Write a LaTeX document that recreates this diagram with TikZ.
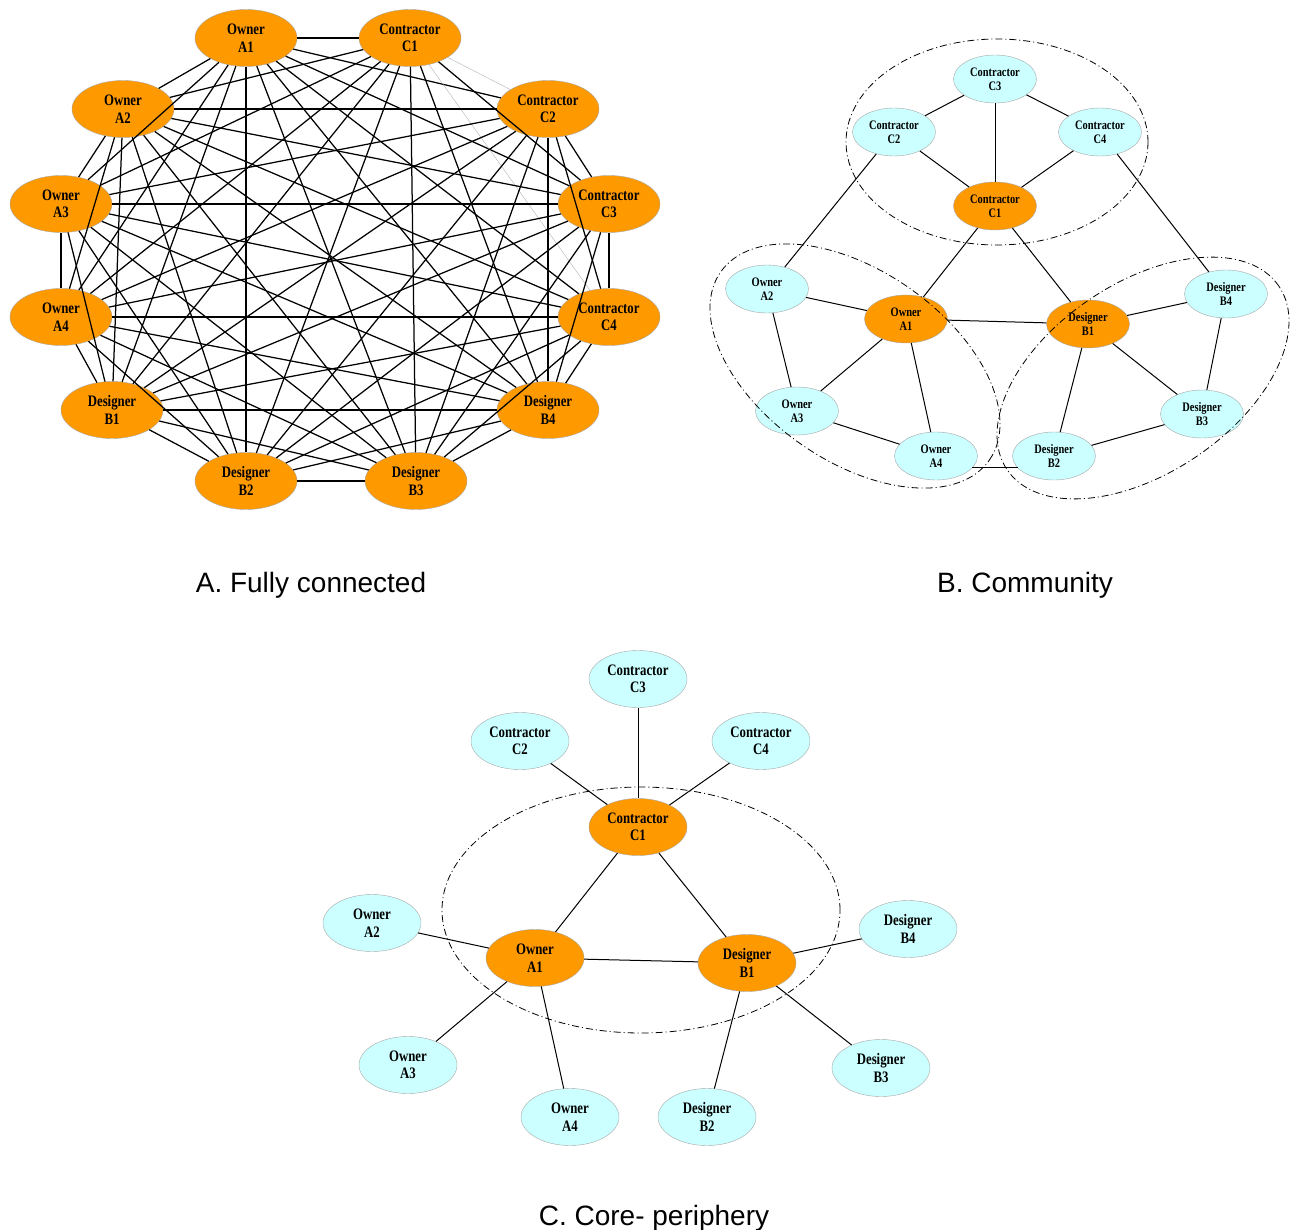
\documentclass[tikz,border=0pt]{standalone}
\usepackage{fontspec}
\newfontfamily\labelfont{Liberation Serif}[FakeStretch=0.8]
\newfontfamily\captionfont{Liberation Sans}
\usetikzlibrary{shapes.geometric}

\tikzset{
  actor/.style={ellipse, draw=gray!70, line width=0.4pt, inner sep=0pt, align=center,
    font=\labelfont\bfseries\fontsize{16}{17.5}\selectfont,
    minimum width=102pt, minimum height=57pt},
  core/.style={actor, fill=corecolor},
  periph/.style={actor, fill=periphcolor},
  small/.style={font=\labelfont\bfseries\fontsize{13}{14}\selectfont,
    minimum width=83pt, minimum height=48pt},
  link/.style={line width=1pt},
  denselink/.style={line width=1.25pt},
  faintlink/.style={line width=0.4pt, gray!60},
  community/.style={line width=0.8pt, dash pattern=on 7pt off 3pt on 1pt off 3pt},
  caption/.style={font=\captionfont\fontsize{28}{32}\selectfont, anchor=base}
}

\begin{document}
\begin{tikzpicture}[x=1pt, y=1pt]
  % Define colors
  \definecolor{corecolor}{RGB}{255,153,0}
  \definecolor{periphcolor}{RGB}{204,255,255}

  \useasboundingbox (0,0) rectangle (1292,-1230);

  % A. Fully connected
  \foreach \role/\id/\x/\y in {Owner/A1/246/38, Contractor/C1/410/38,
      Owner/A2/123/109, Contractor/C2/548/109, Owner/A3/61/204, Contractor/C3/609/204,
      Owner/A4/61/317, Contractor/C4/609/317, Designer/B1/112/410, Designer/B4/548/410,
      Designer/B2/246/481, Designer/B3/416/481} {
    \node[core] (a\id) at (\x,-\y) {\role\\\id};
  }
  \foreach \u [count=\i] in {A1,C1,C2,C3,C4,B4,B3,B2,B1,A4,A3,A2} {
    \foreach \v [count=\j] in {A1,C1,C2,C3,C4,B4,B3,B2,B1,A4,A3,A2} {
      \ifnum\j>\i
        \pgfmathtruncatemacro\faint{(\i==2)*((\j==3)+(\j==5))}
        \ifnum\faint=0 \draw[denselink] (a\u) -- (a\v); \else \draw[faintlink] (a\u) -- (a\v); \fi
      \fi
    }
  }

  % B. Community
  \foreach \kind/\role/\id/\x/\y in {periph/Contractor/C3/995/79, periph/Contractor/C2/894/132,
      periph/Contractor/C4/1100/132, core/Contractor/C1/995/206,
      periph/Owner/A2/767/289, core/Owner/A1/906/319, periph/Owner/A3/797/411,
      periph/Owner/A4/936/456, core/Designer/B1/1088/324, periph/Designer/B4/1226/294,
      periph/Designer/B3/1202/414, periph/Designer/B2/1054/456} {
    \node[\kind, small] (b\id) at (\x,-\y) {\role\\\id};
  }
  \foreach \u/\v in {C3/C2, C3/C4, C3/C1, C2/C1, C4/C1, C2/A2, C4/B4, C1/A1, C1/B1,
      A2/A1, A2/A3, A1/A3, A1/A4, A3/A4, A1/B1, B1/B4, B1/B2, B1/B3, B4/B3, B2/B3} {
    \draw[link] (b\u) -- (b\v);
  }
  \draw[link] (bA4.-18) -- (bB2.198);

  % community borders
  \draw[community] (997,-142) ellipse [x radius=151pt, y radius=103pt];
  \draw[community, rotate around={-35:(855,-366)}] (855,-366) ellipse [x radius=164pt, y radius=95pt];
  \draw[community, rotate around={34:(1143,-378)}] (1143,-378) ellipse [x radius=164pt, y radius=95pt];

  % C. Core- periphery
  \draw[community] (641,-910) ellipse [x radius=199pt, y radius=123pt];
  \foreach \kind/\role/\id/\x/\y in {periph/Contractor/C3/638/679, periph/Contractor/C2/520/741,
      periph/Contractor/C4/761/741, core/Contractor/C1/638/827,
      periph/Owner/A2/372/923, core/Owner/A1/535/958, core/Designer/B1/747/963,
      periph/Designer/B4/908/929, periph/Owner/A3/408/1065, periph/Designer/B3/881/1068,
      periph/Owner/A4/570/1117, periph/Designer/B2/707/1117} {
    \node[\kind, minimum width=98pt] (c\id) at (\x,-\y) {\role\\\id};
  }
  \foreach \u/\v in {C3/C1, C2/C1, C4/C1, C1/A1, C1/B1, A1/B1,
      A2/A1, A3/A1, A4/A1, B4/B1, B3/B1, B2/B1} {
    \draw[link] (c\u) -- (c\v);
  }

  % Captions
  \node[caption] (capA) at (311,-592) {A. Fully connected};
  \node[caption] (capB) at (1025,-592) {B. Community};
  \node[caption] (capC) at (654,-1225) {C. Core- periphery};
\end{tikzpicture}
\end{document}
